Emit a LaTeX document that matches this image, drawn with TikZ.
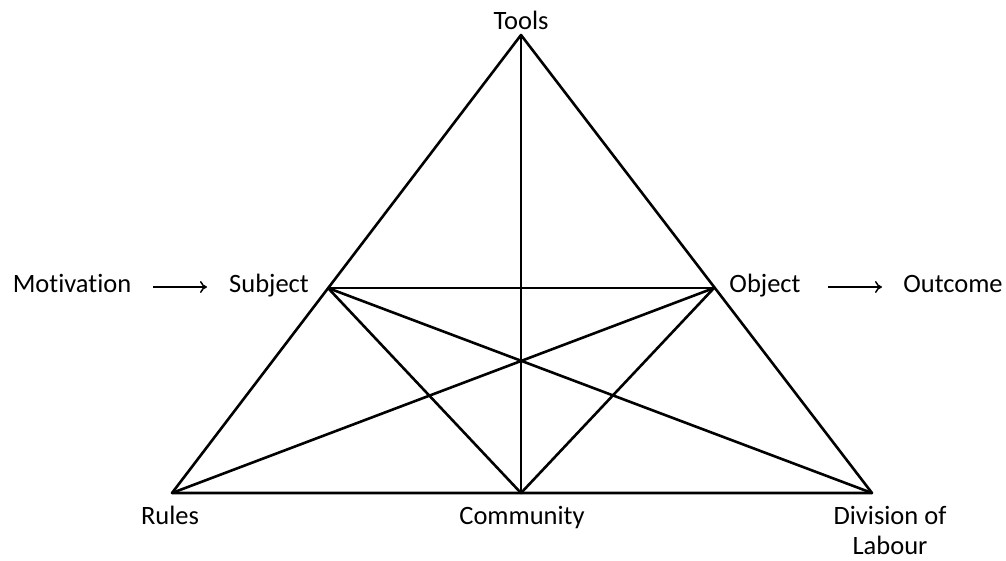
\documentclass[tikz,border=0pt]{standalone}
\usepackage{fontspec}
\setmainfont{Carlito}[Ligatures=NoCommon]
\usetikzlibrary{arrows.meta}
\begin{document}
\begin{tikzpicture}[x=1pt,y=-1pt,
  edge/.style={line width=2.6pt,line join=round},
  flow/.style={line width=1.5pt,-{To[length=7pt,width=12pt]}},
  lbl/.style={font=\fontsize{26.5}{33}\selectfont,inner sep=0pt,anchor=base}]
\useasboundingbox (0,0) rectangle (1006,560);
\coordinate (T) at (521,35);
\coordinate (S) at (328,288);
\coordinate (O) at (714,288);
\coordinate (R) at (172,493);
\coordinate (C) at (521,493);
\coordinate (D) at (872,493);
\draw[edge] (T) -- (R) -- (D) -- cycle;
\draw[edge] (T) -- (C);
\draw[edge] (S) -- (O);
\draw[edge] (S) -- (C) -- (O);
\draw[edge] (S) -- (D);
\draw[edge] (O) -- (R);
\node[lbl] (tools) at (521,29) {Tools};
\node[lbl] (mot) at (72,292) {Motivation};
\node[lbl] (subj) at (269,292) {Subject};
\node[lbl] (obj) at (765,292) {Object};
\node[lbl] (out) at (953,292) {Outcome};
\node[lbl] (rules) at (170,524) {Rules};
\node[lbl] (comm) at (522,524) {Community};
\node[lbl] (div) at (890,524) {Division of};
\node[lbl] (lab) at (890,554) {Labour};
\draw[flow] (153,287) -- (207,287);
\draw[flow] (828,287) -- (882,287);
\end{tikzpicture}
\end{document}
